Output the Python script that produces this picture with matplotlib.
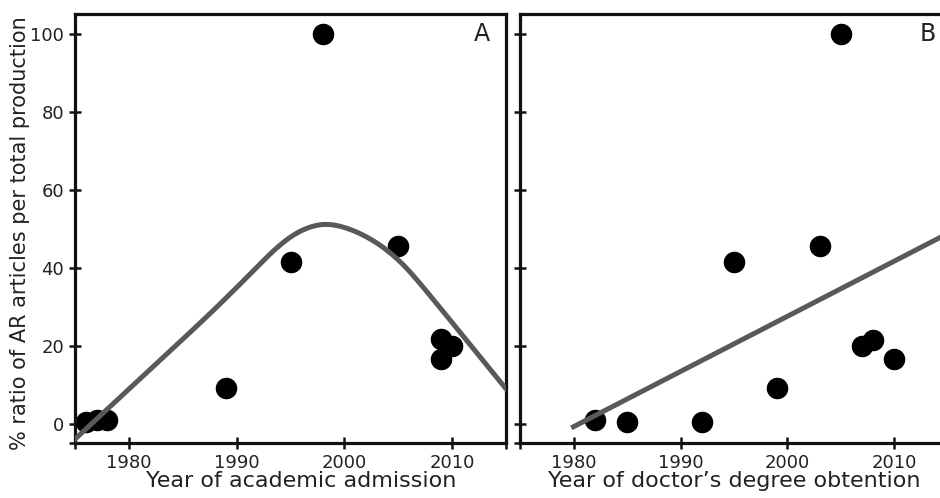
import numpy as np
import matplotlib as mpl
from matplotlib import pyplot as plt

mpl.use("agg")
mpl.rcParams["font.family"] = "DejaVu Sans"

# panel A: year of academic admission vs % AR articles
adm_year = [1976, 1977, 1978, 1989, 1995, 1998, 2005, 2009, 2009, 2010]
adm_ratio = [0.5, 0.8, 0.8, 9.0, 41.3, 100.0, 45.4, 21.8, 16.6, 19.8]

# bell-shaped fitted curve of panel A
fit_a_year = [1975, 1980, 1985, 1988, 1991, 1994, 1996.2, 1998.3, 2000.5,
              2002.7, 2004.5, 2006.1, 2009, 2012, 2015]
fit_a_ratio = [-4.0, 8.8, 21.6, 29.4, 37.6, 46.0, 50.0, 51.4, 50.0,
               47.0, 43.3, 39.0, 29.3, 19.1, 8.9]

# panel B: year of doctor's degree vs % AR articles
phd_year = [1982, 1985, 1992, 1995, 1999, 2003, 2005, 2007, 2008, 2010]
phd_ratio = [0.8, 0.5, 0.5, 41.3, 9.0, 45.4, 100.0, 19.8, 21.3, 16.6]

xticks = [1975, 1980, 1990, 2000, 2010, 2015]
xticklabels = ["", "1980", "1990", "2000", "2010", ""]
yticks = [-5, 0, 20, 40, 60, 80, 100]
yticklabels = ["", "0", "20", "40", "60", "80", "100"]

dot_c = "black"
fit_c = "#595959"
txt_c = "#222222"


def round_corners(x, y, n=4):
    # chaikin corner cutting, keeps the end points
    x, y = np.asarray(x, float), np.asarray(y, float)
    for _ in range(n):
        qx = 0.75 * x[:-1] + 0.25 * x[1:]
        qy = 0.75 * y[:-1] + 0.25 * y[1:]
        rx = 0.25 * x[:-1] + 0.75 * x[1:]
        ry = 0.25 * y[:-1] + 0.75 * y[1:]
        x = np.concatenate([[x[0]], np.column_stack([qx, rx]).ravel(), [x[-1]]])
        y = np.concatenate([[y[0]], np.column_stack([qy, ry]).ravel(), [y[-1]]])
    return x, y


fig = plt.figure(figsize=(9.4, 4.98), dpi=100)
ax_a = fig.add_axes([0.0798, 0.1104, 0.4585, 0.8614])
ax_b = fig.add_axes([0.5532, 0.1104, 0.4553, 0.8614])

for ax in (ax_a, ax_b):
    ax.set_xlim(1975, 2015)
    ax.set_ylim(-5, 105)
    ax.set_xticks(xticks)
    ax.set_xticklabels(xticklabels)
    ax.set_yticks(yticks)
    for s in ax.spines.values():
        s.set_linewidth(2.3)
        s.set_color("#111111")
    ax.tick_params(direction="inout", length=8, width=1.8, labelsize=13,
                   labelcolor=txt_c, color="#111111", pad=4)

ax_a.set_yticklabels(yticklabels)
ax_b.set_yticklabels([])

# A: fitted curve (corners rounded) + points
xa, ya = round_corners(fit_a_year, fit_a_ratio)
ax_a.plot(xa, ya, color=fit_c, lw=3.6, zorder=3)
ax_a.scatter(adm_year, adm_ratio, s=210, color=dot_c, zorder=2, clip_on=False)

# B: linear fit
coef_b = np.polyfit(phd_year, phd_ratio, 1)
xb = np.array([1980, 2015])
ax_b.plot(xb, np.polyval(coef_b, xb), color=fit_c, lw=3.6, zorder=3)
ax_b.scatter(phd_year, phd_ratio, s=210, color=dot_c, zorder=2)

ax_a.set_xlabel("Year of academic admission", fontsize=16, color=txt_c,
                labelpad=-1)
ax_a.xaxis.set_label_coords(0.525, -0.065)
ax_b.set_xlabel("Year of doctor\u2019s degree obtention", fontsize=16,
                color=txt_c, labelpad=-1)
ax_b.xaxis.set_label_coords(0.5, -0.065)
ax_a.set_ylabel("% ratio of AR articles per total production", fontsize=15,
                color=txt_c)
ax_a.yaxis.set_label_coords(-0.105, 0.49)

ax_a.text(2012.8, 100, "A", ha="center", va="center", fontsize=17,
          color=txt_c)
ax_b.text(2013.1, 100, "B", ha="center", va="center", fontsize=17,
          color=txt_c)

fig.savefig("out.png", dpi=100)
plt.close(fig)
